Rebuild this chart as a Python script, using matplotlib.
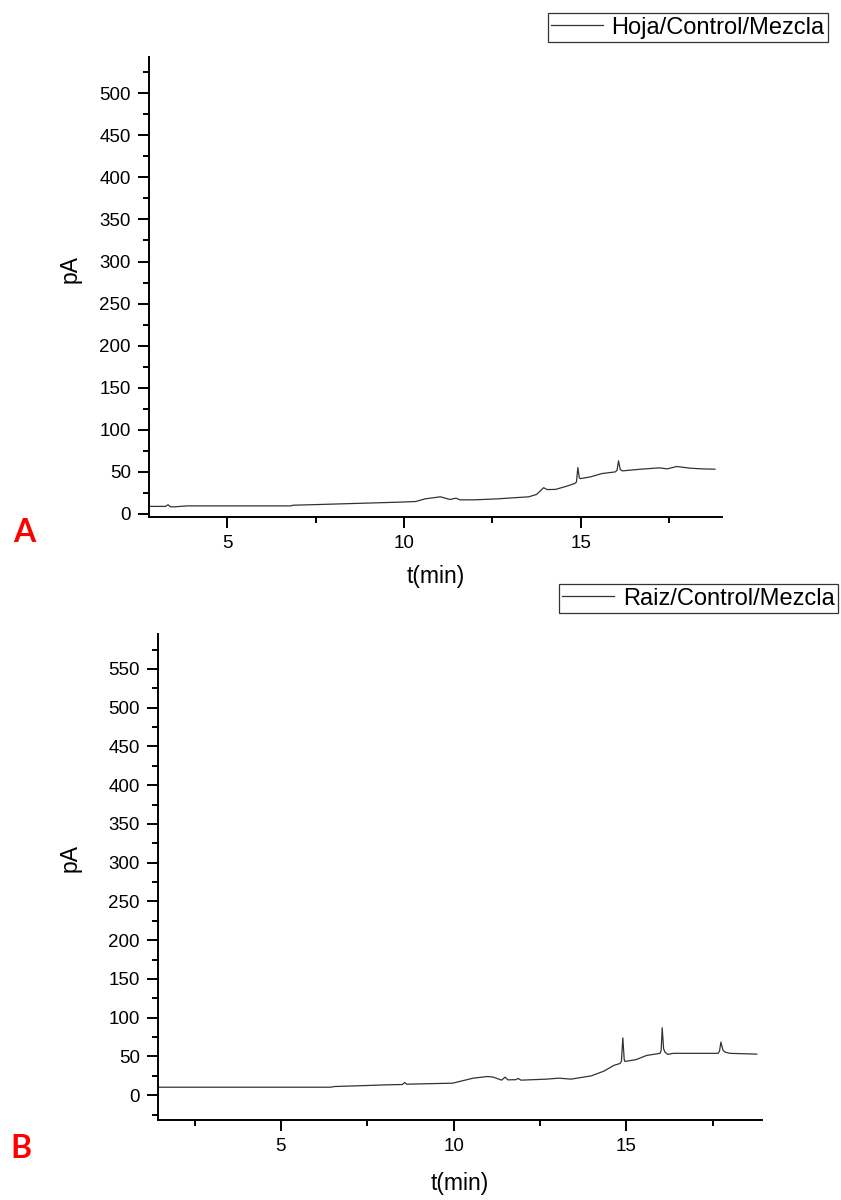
import matplotlib.pyplot as plt
from matplotlib.ticker import MultipleLocator

plt.rcParams['font.family'] = ['Liberation Sans', 'DejaVu Sans']

# Panel A - Hoja/Control/Mezcla
time_a = [2.77, 3.25, 3.32, 3.38, 3.5, 3.86, 6.8, 6.85, 7.55, 8.53, 9.84, 10.33, 10.6,
          11.03, 11.3, 11.47, 11.58, 12.0, 12.66, 13.53, 13.75, 13.95, 14.05, 14.29,
          14.62, 14.84, 14.88, 14.92, 14.96, 14.99, 15.27, 15.6, 15.98, 16.03, 16.07,
          16.12, 16.18, 16.7, 17.23, 17.45, 17.72, 18.1, 18.42, 18.8]
signal_a = [9.0, 9.0, 11.0, 8.6, 8.5, 9.6, 9.6, 10.4, 11.2, 12.4, 14.0, 14.8, 18.0,
            20.4, 17.2, 18.8, 16.8, 16.8, 18.0, 20.4, 23.2, 31.2, 29.0, 29.2,
            33.2, 36.4, 38.0, 55.2, 43.0, 42.0, 44.0, 48.0, 50.0, 52.0, 63.2,
            53.0, 51.2, 53.2, 54.8, 53.6, 56.4, 54.4, 53.6, 53.2]

# Panel B - Raiz/Control/Mezcla
time_b = [1.46, 2.6, 6.43, 6.55, 7.49, 8.08, 8.52, 8.58, 8.64, 9.97, 10.57, 10.98, 11.15,
          11.39, 11.49, 11.57, 11.8, 11.87, 11.95, 12.69, 13.05, 13.4, 13.99, 14.35,
          14.64, 14.82, 14.86, 14.9, 14.94, 14.96, 15.29, 15.59, 15.98, 16.01, 16.04,
          16.08, 16.12, 16.2, 16.36, 17.66, 17.7, 17.74, 17.8, 17.86, 18.0, 18.78]
signal_b = [10.3, 10.3, 10.3, 11.2, 12.5, 13.4, 13.8, 16.4, 14.2, 15.5, 22.0, 24.1, 23.3,
            19.4, 23.3, 19.8, 20.0, 21.6, 19.4, 20.7, 22.0, 20.7, 25.0, 31.0,
            38.4, 41.0, 44.0, 74.0, 46.0, 43.5, 46.0, 51.3, 54.0, 58.0, 87.0,
            60.0, 55.6, 52.6, 54.0, 54.0, 57.0, 68.5, 58.0, 55.6, 54.0, 53.0]

W, H = 841, 1200
fig = plt.figure(figsize=(W / 100, H / 100), dpi=100)


def setup(ax, time, signal, label, xlim, ylim, ymax_tick, ylab_x):
    ax.plot(time, signal, color='#333333', lw=0.9, label=label)
    ax.set_xlim(*xlim)
    ax.set_ylim(*ylim)
    ax.xaxis.set_major_locator(MultipleLocator(5))
    ax.xaxis.set_minor_locator(MultipleLocator(2.5))
    ax.set_yticks(range(0, ymax_tick + 1, 50))
    ax.yaxis.set_minor_locator(MultipleLocator(25))
    for s in ['top', 'right']:
        ax.spines[s].set_visible(False)
    for s in ['left', 'bottom']:
        ax.spines[s].set_linewidth(1.4)
    ax.tick_params(which='major', length=8, width=1.4, labelsize=13.5, pad=5)
    ax.tick_params(which='minor', length=4, width=1.4)
    ax.set_xlabel('t(min)', fontsize=16.5)
    ax.set_ylabel('pA', fontsize=16.5)
    ax.xaxis.label.set_va('center')
    ax.yaxis.label.set_va('center')
    ax.xaxis.set_label_coords(0.5, -0.13)
    ax.yaxis.set_label_coords(ylab_x, 0.54)


def add_legend(ax, right, top):
    leg = ax.legend(loc='upper right', bbox_to_anchor=(right / W, 1 - top / H),
                    bbox_transform=fig.transFigure, fontsize=17, fancybox=False,
                    edgecolor='black', handlelength=2.2, borderpad=0.15,
                    handletextpad=0.35, borderaxespad=0)
    leg.get_frame().set_linewidth(0.9)


ax_a = fig.add_axes([149 / W, 1 - 517 / H, 573 / W, 460 / H])
setup(ax_a, time_a, signal_a, 'Hoja/Control/Mezcla', (2.78, 19.0), (-3.6, 543), 500, -0.138)
add_legend(ax_a, 828, 13)

ax_b = fig.add_axes([158 / W, 1 - 1120 / H, 604 / W, 486 / H])
setup(ax_b, time_b, signal_b, 'Raiz/Control/Mezcla', (1.44, 18.93), (-32, 595), 550, -0.146)
add_legend(ax_b, 838, 584)

# panel letters
fig.text(24 / W, 1 - 533 / H, 'A', color='red', fontsize=23, fontweight='bold',
         ha='center', va='center', family='Lato')
fig.text(21 / W, 1 - 1149 / H, 'B', color='red', fontsize=23, fontweight='bold',
         ha='center', va='center', family='Lato')

fig.savefig('out.png', dpi=100)
